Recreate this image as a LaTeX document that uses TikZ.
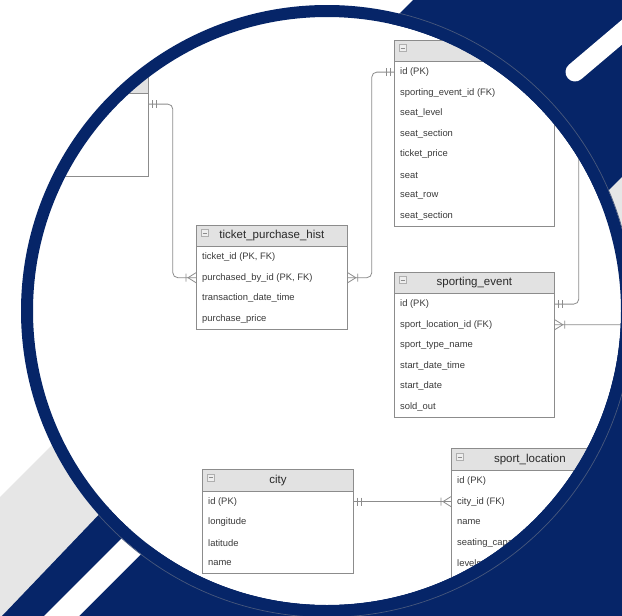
\documentclass[tikz,border=0pt]{standalone}
\usepackage{fontspec}
\setmainfont{Liberation Sans}
\usetikzlibrary{calc,positioning}

\definecolor{navy}{RGB}{6,37,104}
\definecolor{bandgray}{RGB}{230,230,230}
\definecolor{ergray}{RGB}{140,140,140}
\definecolor{erfill}{RGB}{226,226,226}
\definecolor{ertext}{RGB}{58,58,58}
\definecolor{ringline}{RGB}{72,88,124}

\tikzset{
	erline/.style={draw=ergray, line width=0.8pt},
	erhead/.style={erline, fill=erfill, minimum height=21.5pt, inner sep=0pt, text=ertext!70!black, font=\fontsize{11.5}{13}\selectfont},
	erfield/.style={anchor=west, inner sep=0pt, text=ertext, font=\fontsize{9.4}{11}\selectfont},
	ericon/.style={draw=ergray!70, fill=erfill!60, line width=0.5pt},
	pics/onemark/.style={code={\draw[erline] (4,-4) -- (4,4) (8,-4) -- (8,4);}},
	pics/manymark/.style={code={\draw[erline] (0,-5) -- (8,0) -- (0,5) (10,-4) -- (10,4);}},
}

% table: name, top left, width, title, rows, fields
\newcommand{\ertable}[6]{%
	\node[erhead, minimum width=#3, anchor=north west] (#1) at (#2) {#4};
	\draw[ericon] ($(#1.north west)+(5,5)$) rectangle ++(7,7);
	\draw[ergray, line width=0.6pt] ($(#1.north west)+(6.5,8.5)$) -- ++(4,0);
	\foreach \fld [count=\i] in {#6} {
		\node[erfield] (#1-\i) at ($(#1.south west)+(6,{(\i-0.5)*20.6})$) {\fld};
		\coordinate (#1-\i-l) at ($(#1.south west)+(0,{(\i-0.5)*20.6})$);
		\coordinate (#1-\i-r) at ($(#1.south east)+(0,{(\i-0.5)*20.6})$);
	}
	\draw[erline] (#1.south west) -- ++(0,#5*20.6) -| (#1.south east);
}

\begin{document}
\begin{tikzpicture}[x=1pt, y=-1pt]
	\useasboundingbox (0,0) rectangle (622,616);
	\clip (0,0) rectangle (622,616);
	% background bands
	\fill[white] (0,0) rectangle (622,616);
	\fill[bandgray] (0,497) -- (200,297) -- (260,420) -- (0,620) -- cycle;
	\fill[navy] (413,0) -- (622,0) -- (622,616) -- (2,616) -- (110,503) -- (327,311) -- (378,35) -- cycle;
	\fill[bandgray] (500,299) -- (640,159) -- (640,282) -- (500,422) -- cycle;
	\fill[white] (44,616) -- (79,616) -- (190,505) -- (155,505) -- cycle;
	\draw[white, line width=19pt, line cap=round] (575,72) -- (660,0);
	\fill[white] (327,311) circle (294);

	\begin{scope}
	\clip (327,311) circle (294);
	\ertable{buyer}{-3,71.5}{151}{}{4}{{},{},{},{}}
	\ertable{ticket}{394,39.5}{160}{}{8}{{id (PK)},{sporting\_event\_id (FK)},{seat\_level},{seat\_section},{ticket\_price},{seat},{seat\_row},{seat\_section}}
	\ertable{tph}{196,224.5}{151}{ticket\_purchase\_hist}{4}{{ticket\_id (PK, FK)},{purchased\_by\_id (PK, FK)},{transaction\_date\_time},{purchase\_price}}
	\ertable{spev}{394,271.5}{160}{sporting\_event}{6}{{id (PK)},{sport\_location\_id (FK)},{sport\_type\_name},{start\_date\_time},{start\_date},{sold\_out}}
	\ertable{city}{202,469}{151}{city}{4}{{id (PK)},{longitude},{latitude},{name}}
	\ertable{sportloc}{451,448.4}{157}{sport\_location}{6}{{id (PK)},{city\_id (FK)},{name},{seating\_capacity},{levels},{}}

	% relations
	\draw[erline, rounded corners=5pt] (buyer-1-r) -- ++(24,0) |- (tph-2-l);
	\path (buyer-1-r) pic {onemark};
	\path (tph-2-l) pic[rotate=180] {manymark};
	\draw[erline, rounded corners=5pt] (tph-2-r) -- ++(24,0) |- (ticket-1-l);
	\path (tph-2-r) pic {manymark};
	\path (ticket-1-l) pic[rotate=180] {onemark};
	\draw[erline, rounded corners=5pt] (spev-1-r) -- ++(24,0) |- (ticket-2-r);
	\path (spev-1-r) pic {onemark};
	\path (ticket-2-r) pic {manymark};
	\draw[erline, rounded corners=5pt] (spev-2-r) -- ++(92,0) |- (sportloc-1-r);
	\path (spev-2-r) pic {manymark};
	\path (sportloc-1-r) pic {onemark};
	\draw[erline] (city-1-r) -- (sportloc-2-l);
	\path (city-1-r) pic {onemark};
	\path (sportloc-2-l) pic[rotate=180] {manymark};
	\end{scope}

	% lens ring
	\draw[navy, line width=12pt] (327,311) circle (300);
	\begin{scope}
	\clip (413,0) -- (622,0) -- (622,616) -- (2,616) -- (110,503) -- (327,311) -- (378,35) -- cycle;
	\draw[ringline, line width=0.7pt] (327,311) circle (306.3);
	\end{scope}
\end{tikzpicture}
\end{document}
